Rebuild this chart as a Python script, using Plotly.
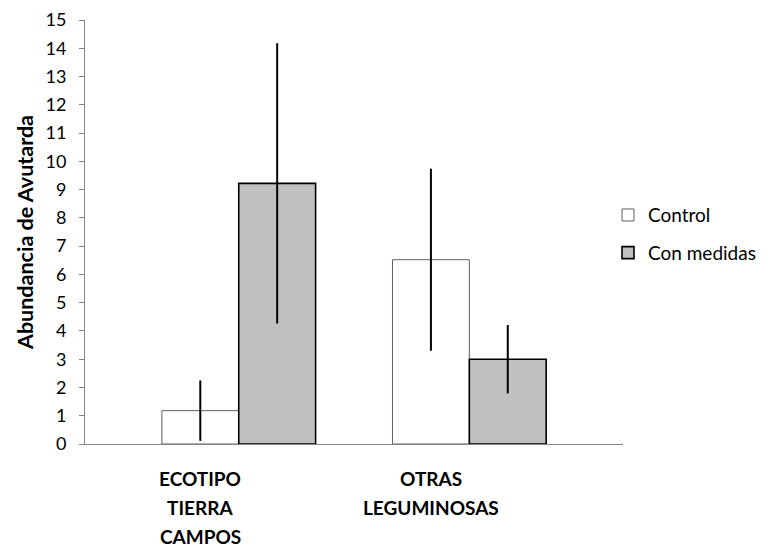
import plotly.graph_objects as go

categories = ["ECOTIPO TIERRA CAMPOS", "OTRAS LEGUMINOSAS"]
category_lines = [["ECOTIPO", "TIERRA", "CAMPOS"], ["OTRAS", "LEGUMINOSAS"]]
series_names = ["Control", "Con medidas"]
control_values = [1.18, 6.52]
control_errors = [1.07, 3.22]
medidas_values = [9.22, 3.00]
medidas_errors = [4.96, 1.21]
y_ticks = list(range(0, 16))
y_title = "Abundancia de Avutarda"

FONT = "Lato, 'Liberation Sans', Arial, sans-serif"

fig = go.Figure()
fig.add_trace(go.Bar(
    x=categories, y=control_values, name=series_names[0],
    legendgroup="a",
    width=1/3, offset=-1/6,
    marker=dict(color="white", line=dict(color="#5f5f5f", width=1)),
    error_y=dict(type="data", array=control_errors, visible=True,
                 color="black", thickness=2, width=0),
))
fig.add_trace(go.Bar(
    x=categories, y=medidas_values, name=series_names[1],
    legendgroup="b",
    width=1/3, offset=1/6,
    marker=dict(color="#c0c0c0", line=dict(color="black", width=1.6)),
    error_y=dict(type="data", array=medidas_errors, visible=True,
                 color="black", thickness=2, width=0),
))

# page body adds an 8px offset, so figure coordinates = screen - 8
plot_left, plot_right = 77, 615
plot_top, plot_bottom = 12, 436
fig_w, fig_h = 800, 547
line_centers_px = [470, 499, 528]
annotations = []
for cat, lines in zip(categories, category_lines):
    for i, txt in enumerate(lines):
        py = line_centers_px[i]
        annotations.append(dict(
            x=cat, xref="x",
            y=(plot_bottom - py) / (plot_bottom - plot_top), yref="paper",
            text="<b>" + txt + "</b>", showarrow=False,
            xanchor="center", yanchor="middle",
            font=dict(family=FONT, size=19, color="black"),
        ))

fig.update_layout(
    width=fig_w, height=fig_h,
    margin=dict(l=plot_left, r=fig_w - plot_right, t=plot_top, b=fig_h - plot_bottom),
    plot_bgcolor="white", paper_bgcolor="white",
    font=dict(family=FONT, color="black"),
    barmode="group",
    showlegend=True,
    legend=dict(
        x=(600 - plot_left) / (plot_right - plot_left), xanchor="left",
        y=0.495, yanchor="middle",
        font=dict(family=FONT, size=19, color="black"),
        tracegroupgap=10, traceorder="grouped",
        itemwidth=30, bgcolor="rgba(0,0,0,0)",
    ),
    xaxis=dict(
        type="category", range=[-0.5, 1.833],
        showticklabels=False, ticks="",
        showline=True, linecolor="#868686", linewidth=1,
        showgrid=False, zeroline=False, automargin=False,
    ),
    yaxis=dict(
        range=[0, 15], tickvals=y_ticks,
        ticks="outside", ticklen=5, tickcolor="#868686", tickwidth=1,
        ticklabelstandoff=9,
        showline=True, linecolor="#868686", linewidth=1,
        showgrid=False, zeroline=False, automargin=False,
        tickfont=dict(family=FONT, size=18, color="black"),
        title=dict(text="<b>" + y_title + "</b>", standoff=5,
                   font=dict(family=FONT, size=21.5, color="black")),
    ),
    annotations=annotations,
)

fig.write_html("out.html")
